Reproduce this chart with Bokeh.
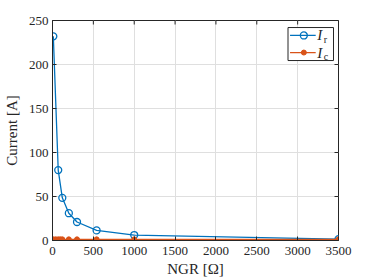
import math
from bokeh.plotting import figure
from bokeh.models import Range1d, FixedTicker
from bokeh.core.properties import value
from bokeh.embed import file_html
from bokeh.resources import INLINE

# data
ngr_r = [10, 70, 120, 200, 300, 540, 1000, 3500]
i_r = [232, 80, 48.5, 31, 21, 11.5, 6.2, 1.5]
ngr_c = [10, 40, 70, 95, 120, 200, 300, 540, 1000, 3500]
i_c = [1.3, 1.3, 1.3, 1.3, 1.3, 1.3, 1.3, 1.3, 1.3, 1.3]
x_ticks = [0, 500, 1000, 1500, 2000, 2500, 3000, 3500]
y_ticks = [0, 50, 100, 150, 200, 250]

BLUE = "#0072BD"
ORANGE = "#D95319"
AX = "#262626"
FONT = "Liberation Serif"

p = figure(width=374, height=280, output_backend="svg", toolbar_location=None,
           x_range=Range1d(0, 3500), y_range=Range1d(0, 250),
           min_border_left=49, min_border_right=36, min_border_top=20, min_border_bottom=40,
           x_axis_label="NGR [Ω]", y_axis_label="Current [A]")
p.background_fill_color = "white"
p.border_fill_color = "white"
p.outline_line_color = AX
p.outline_line_width = 1

for g in (p.xgrid[0], p.ygrid[0]):
    g.grid_line_color = "#dfdfdf"
    g.grid_line_width = 1
p.xgrid[0].ticker = FixedTicker(ticks=x_ticks)
p.ygrid[0].ticker = FixedTicker(ticks=y_ticks)

for ax in (p.xaxis[0], p.yaxis[0]):
    ax.axis_line_color = AX
    ax.major_tick_line_color = AX
    ax.major_tick_in = 4
    ax.major_tick_out = 0
    ax.minor_tick_line_color = None
    ax.major_label_text_font = FONT
    ax.major_label_text_font_size = "13px"
    ax.major_label_text_color = AX
    ax.axis_label_text_font = FONT
    ax.axis_label_text_font_size = "15px"
    ax.axis_label_text_font_style = "normal"
    ax.axis_label_text_color = AX
    ax.major_label_standoff = 4
p.xaxis[0].ticker = FixedTicker(ticks=x_ticks)
p.yaxis[0].ticker = FixedTicker(ticks=y_ticks)
p.xaxis[0].major_label_standoff = 6
p.xaxis[0].axis_label_standoff = 3
p.yaxis[0].axis_label_standoff = 6

# top / right inward ticks (MATLAB box style)
p.scatter(x_ticks, [250] * len(x_ticks), marker="dash", angle=math.pi / 2, size=8, line_color=AX, line_width=1)
p.scatter([3500] * len(y_ticks), y_ticks, marker="dash", size=8, line_color=AX, line_width=1)

p.line(ngr_r, i_r, color=BLUE, line_width=1.3)
p.scatter(ngr_r, i_r, marker="circle", size=7, fill_color=None, line_color=BLUE, line_width=1.3)
p.line(ngr_c, i_c, color=ORANGE, line_width=1.3)
p.scatter(ngr_c, i_c, marker="circle", size=5, fill_color=ORANGE, line_color=ORANGE)

# legend (drawn manually for subscripts)
lg_left, lg_right, lg_top, lg_bottom = 2882, 3439, 242, 204.5
row_y = [233, 213.6]
p.quad(left=lg_left, right=lg_right, top=lg_top, bottom=lg_bottom,
       fill_color="white", line_color=AX, line_width=1)
p.line([2907, 3221], [row_y[0]] * 2, color=BLUE, line_width=1.3)
p.scatter([3076], [row_y[0]], marker="circle", size=7, fill_color=None, line_color=BLUE, line_width=1.3)
p.line([2907, 3221], [row_y[1]] * 2, color=ORANGE, line_width=1.3)
p.scatter([3076], [row_y[1]], marker="circle", size=5, fill_color=ORANGE, line_color=ORANGE)
p.text(x=[3240, 3240], y=row_y, text=["I", "I"], text_font=value(FONT), text_font_style="italic",
       text_font_size="15px", text_baseline="middle", text_align="left", text_color=AX)
p.text(x=[3318, 3318], y=row_y, text=["r", "c"], text_font=value(FONT),
       text_font_size="10px", text_baseline="middle", text_align="left", text_color=AX, y_offset=4)

open("out.html", "w").write(file_html(p, INLINE))
